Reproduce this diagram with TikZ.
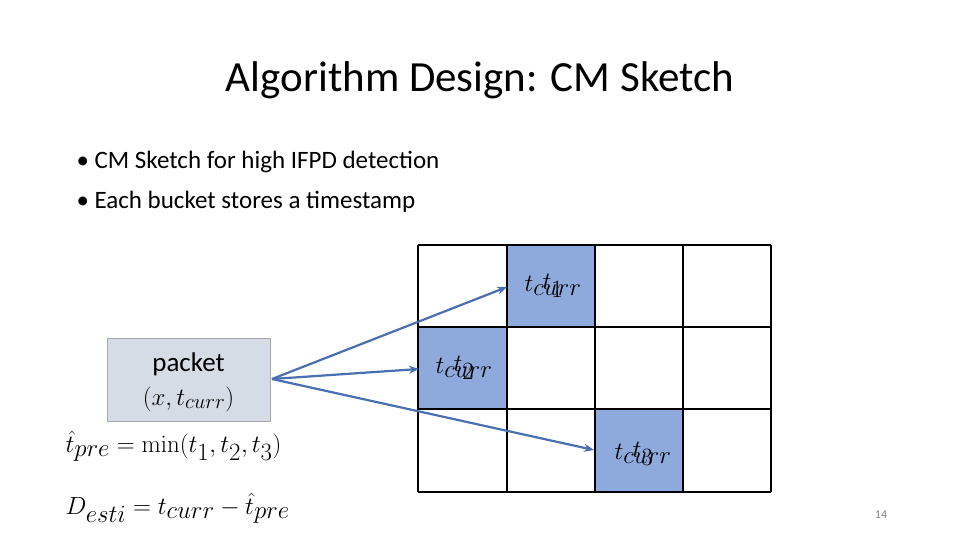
\documentclass[tikz,border=0pt]{standalone}
\usepackage[no-math]{fontspec}
\setmainfont{Carlito}
\usetikzlibrary{arrows.meta}
\definecolor{cell}{HTML}{8EA9DB}
\definecolor{pk}{HTML}{D6DCE5}
\definecolor{arr}{HTML}{4A6FB0}
\begin{document}
\begin{tikzpicture}[x=1pt,y=-1pt,
  con/.style={draw=arr,line width=2.2pt,-{Stealth[length=10pt,width=8pt]}},
  lbl/.style={inner sep=0pt,font=\fontsize{35}{38}\selectfont}]
\useasboundingbox (0,0) rectangle (960,540);
\node[font=\fontsize{43}{48}\selectfont] (title) at (480,80) {Algorithm Design: CM Sketch};
\node[anchor=west,font=\fontsize{25}{30}\selectfont] (b1) at (73,162) {• CM Sketch for high IFPD detection};
\node[anchor=west,font=\fontsize{25}{30}\selectfont] (b2) at (73,202) {• Each bucket stores a timestamp};
\fill[cell] (507,245) rectangle (595,327);
\fill[cell] (418,327) rectangle (507,409);
\fill[cell] (595,409) rectangle (683,492);
\foreach \x in {418,507,595,683,771} \draw[line width=1.6pt] (\x,245) -- (\x,492);
\foreach \y in {245,327,409,492} \draw[line width=1.6pt] (418,\y) -- (771,\y);
\node[lbl] (c1a) at (553,286) {$t_1$};
\node[lbl] (c1b) at (553,286) {$t_{curr}$};
\node[lbl] (c2a) at (464,368) {$t_2$};
\node[lbl] (c2b) at (464,368) {$t_{curr}$};
\node[lbl] (c3a) at (643,454) {$t_3$};
\node[lbl] (c3b) at (643,454) {$t_{curr}$};
\node[draw=gray!70,fill=pk,minimum width=163pt,minimum height=83pt,inner sep=0pt] (pkt) at (188.5,379.5) {};
\node[font=\fontsize{27}{30}\selectfont] (pl) at (188.5,364) {packet};
\node[font=\fontsize{30}{32}\selectfont] (pv) at (188.5,399) {$(x,t_{curr})$};
\coordinate (src) at (272,379);
\coordinate (e1) at (507,287);
\coordinate (e2) at (419,369);
\coordinate (e3) at (594,450);
\draw[con] (src) -- (e1);
\draw[con] (src) -- (e2);
\draw[con] (src) -- (e3);
\node[anchor=west,font=\fontsize{36}{40}\selectfont] (f1) at (62,446) {$\hat t_{pre}=\min(t_1,t_2,t_3)$};
\node[anchor=west,font=\fontsize{36}{40}\selectfont] (f2) at (62,508) {$D_{esti}=t_{curr}-\hat t_{pre}$};
\node[font=\fontsize{12}{14}\selectfont,text=gray] (pg) at (881,515) {14};
\end{tikzpicture}
\end{document}
